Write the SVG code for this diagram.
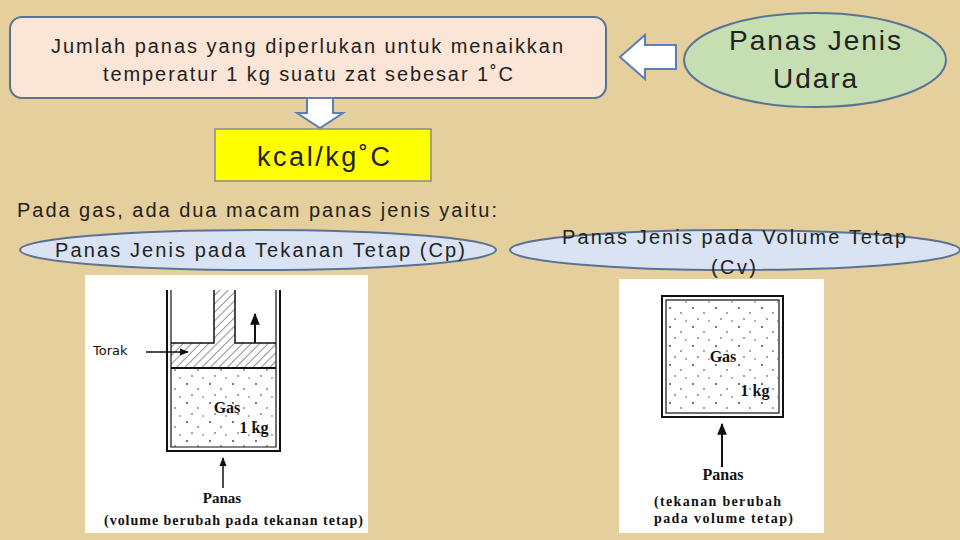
<svg xmlns="http://www.w3.org/2000/svg" width="960" height="540" viewBox="0 0 960 540">
<style>
.s{font-family:"Liberation Sans",Arial,sans-serif;fill:#222}
.r{font-family:"Liberation Serif","Times New Roman",serif;fill:#111;font-weight:bold}
.line{stroke:#111;fill:none}
</style>
<defs>
<pattern id="hatch" width="6" height="6" patternUnits="userSpaceOnUse" patternTransform="rotate(45)">
<line x1="0" y1="0" x2="0" y2="6" stroke="#222" stroke-width="1"/>
</pattern>
<pattern id="dots" width="23" height="19" patternUnits="userSpaceOnUse">
<circle cx="3" cy="4" r="0.9" fill="#333"/><circle cx="14" cy="9" r="0.8" fill="#333"/><circle cx="8" cy="15" r="0.8" fill="#333"/><circle cx="19" cy="17" r="0.7" fill="#333"/>
</pattern>
<marker id="ah" viewBox="0 0 10 10" refX="9" refY="5" markerWidth="6" markerHeight="6" orient="auto"><path d="M0,1 L10,5 L0,9 z" fill="#111"/></marker>
</defs>
<rect width="960" height="540" fill="#e5cf9c"/>
<g id="definition">
<rect x="10" y="17" width="596" height="81" rx="12" fill="#fbe5d6" stroke="#5a7393" stroke-width="2"/>
<text class="s" x="51" y="53" font-size="20" textLength="512" lengthAdjust="spacing">Jumlah panas yang diperlukan untuk menaikkan</text>
<text class="s" x="103" y="81" font-size="20" textLength="410" lengthAdjust="spacing">temperatur 1 kg suatu zat sebesar 1˚C</text>
</g>
<g id="connectors">
<path d="M620,57 L645,35 L645,45 L676,45 L676,69 L645,69 L645,79 z" fill="#fff" stroke="#5b7fb8" stroke-width="2"/>
<path d="M307,98 L333,98 L333,113 L343,113 L320,128 L297,113 L307,113 z" fill="#fff" stroke="#5b7fb8" stroke-width="2"/>
</g>
<g id="title">
<ellipse cx="815" cy="60" rx="131" ry="47" fill="#c5dfb3" stroke="#5a7393" stroke-width="2"/>
<text class="s" x="729" y="50" font-size="28" textLength="172" lengthAdjust="spacing">Panas Jenis</text>
<text class="s" x="773" y="88" font-size="28" textLength="84" lengthAdjust="spacing">Udara</text>
</g>
<g id="unit">
<rect x="215" y="129" width="216" height="52" fill="#ffff00" stroke="#8c8c8c" stroke-width="1.5"/>
<text class="s" x="257" y="166" font-size="27" fill="#000" textLength="133" lengthAdjust="spacing">kcal/kg˚C</text>
</g>
<text class="s" x="17" y="217" font-size="20" textLength="480" lengthAdjust="spacing">Pada gas, ada dua macam panas jenis yaitu:</text>
<g id="cp">
<ellipse cx="258" cy="250" rx="238" ry="20" fill="#dae3f3" stroke="#5a7393" stroke-width="2"/>
<text class="s" x="55" y="257" font-size="20" textLength="410" lengthAdjust="spacing">Panas Jenis pada Tekanan Tetap (Cp)</text>
</g>
<g id="cv">
<ellipse cx="735" cy="250" rx="225" ry="20" fill="#dae3f3" stroke="#5a7393" stroke-width="2"/>
<text class="s" x="562" y="244" font-size="20" textLength="344" lengthAdjust="spacing">Panas Jenis pada Volume Tetap</text>
<text class="s" x="711" y="274" font-size="20" textLength="45" lengthAdjust="spacing">(Cv)</text>
</g>
<g id="cp-figure">
<rect x="85" y="275" width="283" height="258" fill="#fff"/>
<rect x="171" y="368" width="105" height="80" fill="url(#dots)"/>
<path d="M171,343 L214,343 L214,290 L235,290 L235,343 L276,343 L276,368 L171,368 z" fill="url(#hatch)"/>
<path class="line" d="M171,343 L214,343 L214,290 M235,290 L235,343 L276,343" stroke-width="1.5"/>
<line class="line" x1="171" y1="368" x2="276" y2="368" stroke-width="2"/>
<path class="line" d="M167,290 L167,451 L280,451 L280,290" stroke-width="2"/>
<path class="line" d="M171,290 L171,447 L276,447 L276,290" stroke-width="1.2"/>
<line class="line" x1="255" y1="343" x2="255" y2="314" stroke-width="2" marker-end="url(#ah)"/>
<text x="93" y="355" font-size="13" font-family="'DejaVu Sans',sans-serif" fill="#111">Torak</text>
<line class="line" x1="146" y1="352" x2="188" y2="352" stroke-width="1.5" marker-end="url(#ah)"/>
<text class="r" x="227" y="413" font-size="16" text-anchor="middle" font-weight="normal">Gas</text>
<text class="r" x="254" y="433" font-size="16" text-anchor="middle">1 kg</text>
<line class="line" x1="223" y1="488" x2="223" y2="458" stroke-width="1.5" marker-end="url(#ah)"/>
<text class="r" x="222" y="503" font-size="15" text-anchor="middle" font-weight="normal">Panas</text>
<text class="r" x="104" y="525" font-size="14" font-weight="normal" textLength="259" lengthAdjust="spacing">(volume berubah pada tekanan tetap)</text>
</g>
<g id="cv-figure">
<rect x="619" y="279" width="205" height="254" fill="#fff"/>
<rect x="667" y="301" width="111" height="111" fill="url(#dots)"/>
<rect x="662" y="296" width="121" height="121" fill="none" stroke="#111" stroke-width="2"/>
<rect x="666" y="300" width="113" height="113" fill="none" stroke="#111" stroke-width="1.2"/>
<text class="r" x="723" y="362" font-size="16" text-anchor="middle" font-weight="normal">Gas</text>
<text class="r" x="755" y="396" font-size="16" text-anchor="middle">1 kg</text>
<line class="line" x1="722" y1="467" x2="722" y2="424" stroke-width="2" marker-end="url(#ah)"/>
<text class="r" x="723" y="480" font-size="16" text-anchor="middle">Panas</text>
<text class="r" x="654" y="506" font-size="14" textLength="127" lengthAdjust="spacing">(tekanan berubah</text>
<text class="r" x="654" y="523" font-size="14" textLength="139" lengthAdjust="spacing">pada volume tetap)</text>
</g>
</svg>
